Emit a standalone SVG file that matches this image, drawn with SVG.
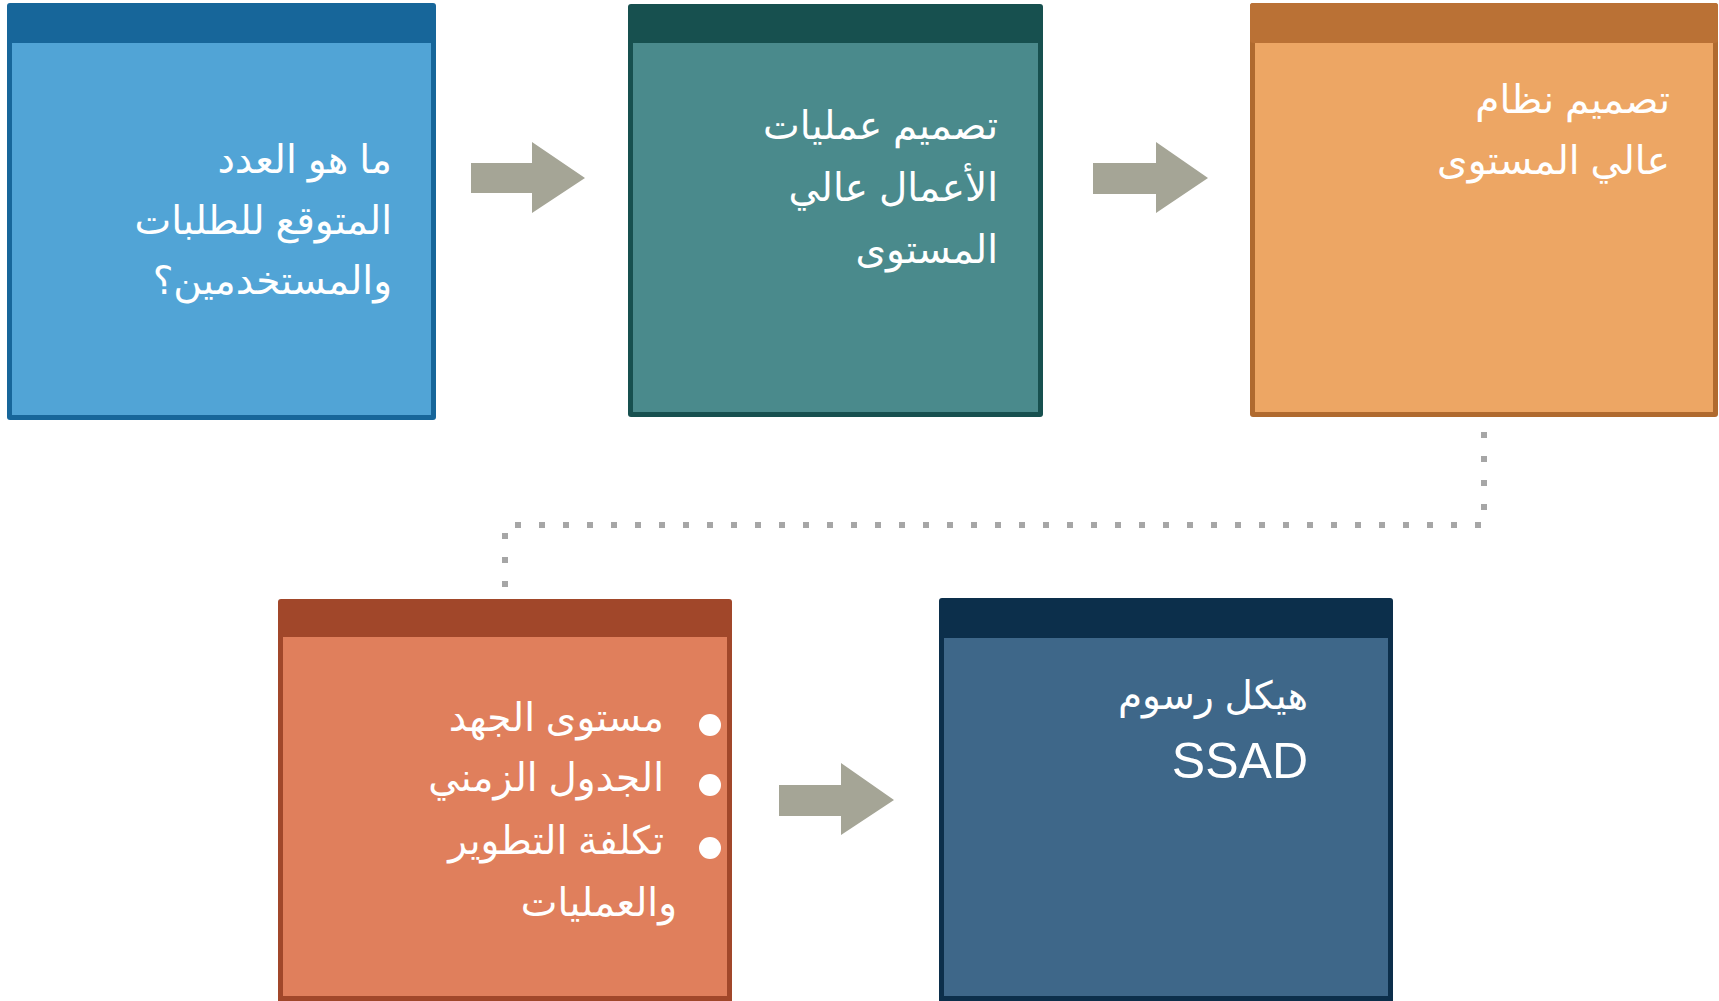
<svg xmlns="http://www.w3.org/2000/svg" width="1719" height="1001" viewBox="0 0 1719 1001">
<style>
.t{font-family:"Liberation Sans","DejaVu Sans",sans-serif;font-size:39px;fill:#ffffff;text-anchor:end}
.arrow{fill:#A5A596}
.dots{fill:none;stroke:#A6A6A6;stroke-width:6;stroke-dasharray:6 18}
</style>
<rect width="1719" height="1001" fill="#ffffff"/>
<g id="connectors">
<path class="arrow" d="M471,163 H532 V142 L585,178 L532,213 V193 H471 Z"/>
<path class="arrow" d="M1093,163 H1156 V142 L1208,178 L1156,213 V194 H1093 Z"/>
<path class="arrow" d="M779,785 H841 V763 L894,800 L841,835 V816 H779 Z"/>
<path class="dots" d="M1484,432 V525 H505 V590"/>
</g>
<g id="node1">
<rect x="7" y="3" width="429" height="417" rx="3" fill="#17669A"/>
<rect x="12" y="43" width="419" height="372" fill="#51A4D6"/>
<text class="t" x="392" y="173">ما هو العدد</text>
<text class="t" x="392" y="234">المتوقع للطلبات</text>
<text class="t" x="392" y="294">والمستخدمين؟</text>
</g>
<g id="node2">
<rect x="628" y="4" width="415" height="413" rx="3" fill="#17504F"/>
<rect x="633" y="43" width="405" height="369" fill="#4A8A8C"/>
<text class="t" x="998" y="139">تصميم عمليات</text>
<text class="t" x="998" y="201">الأعمال عالي</text>
<text class="t" x="998" y="263">المستوى</text>
</g>
<g id="node3">
<rect x="1250" y="3" width="468" height="414" rx="3" fill="#B06A2F"/>
<rect x="1250" y="3" width="468" height="40" rx="3" fill="#BA7135"/>
<rect x="1255" y="43" width="458" height="369" fill="#EDA664"/>
<text class="t" x="1670" y="113">تصميم نظام</text>
<text class="t" x="1670" y="174">عالي المستوى</text>
</g>
<g id="node4">
<rect x="278" y="599" width="454" height="406" rx="3" fill="#A1472A"/>
<rect x="283" y="637" width="444" height="359" fill="#E07F5C"/>
<circle cx="710" cy="725" r="11" fill="#ffffff"/>
<circle cx="710" cy="785" r="11" fill="#ffffff"/>
<circle cx="710" cy="848" r="11" fill="#ffffff"/>
<text class="t" x="664" y="731">مستوى الجهد</text>
<text class="t" x="664" y="791">الجدول الزمني</text>
<text class="t" x="664" y="854">تكلفة التطوير</text>
<text class="t" x="677" y="916">والعمليات</text>
</g>
<g id="node5">
<rect x="939" y="598" width="454" height="407" rx="3" fill="#0C2F4B"/>
<rect x="944" y="638" width="444" height="358" fill="#3E6789"/>
<text class="t" x="1308" y="709">هيكل رسوم</text>
<text class="t" x="1308" y="778" style="font-size:50px">SSAD</text>
</g>
</svg>
